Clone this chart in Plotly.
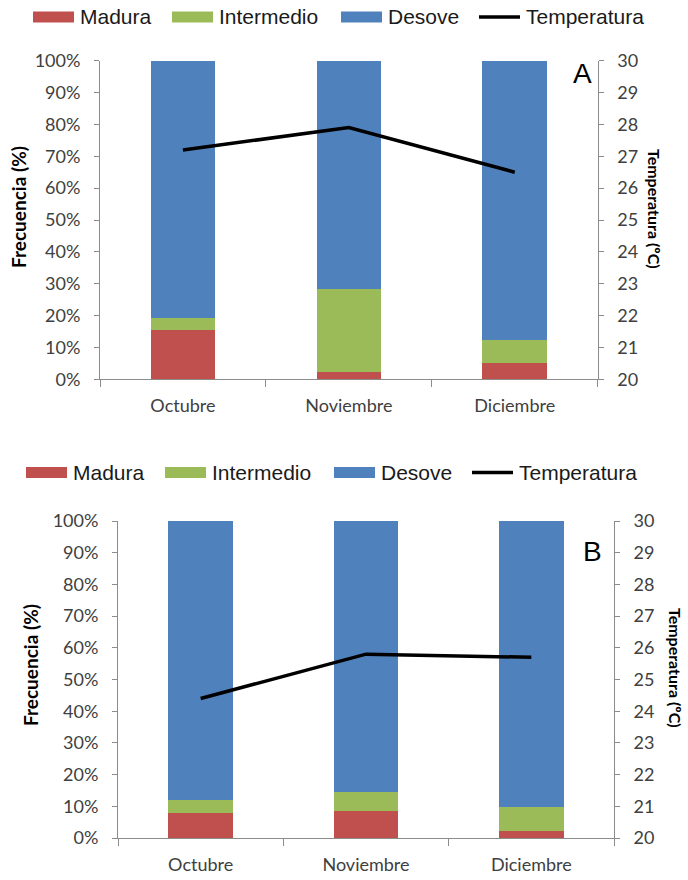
import plotly.graph_objects as go

W, H = 688, 880

months = ["Octubre", "Noviembre", "Diciembre"]

# Panel A
madura_a = [15.5, 2.3, 5.0]
intermedio_a = [3.6, 26.1, 7.2]
desove_a = [80.9, 71.6, 87.8]
temp_a = [27.2, 27.9, 26.5]

# Panel B
madura_b = [7.8, 8.5, 2.2]
intermedio_b = [4.2, 5.9, 7.7]
desove_b = [88.0, 85.6, 90.1]
temp_b = [24.4, 25.8, 25.7]

pct_ticks = [0, 10, 20, 30, 40, 50, 60, 70, 80, 90, 100]
pct_labels = ["0%", "10%", "20%", "30%", "40%", "50%", "60%", "70%", "80%", "90%", "100%"]
temp_ticks = [20, 21, 22, 23, 24, 25, 26, 27, 28, 29, 30]

C_RED = "#C0504D"
C_GREEN = "#9BBB59"
C_BLUE = "#4F81BD"
AX = "#8C8C8C"
TICKFONT = dict(family="Lato", size=18, color="#404040")
BAR_W = 0.39


def px(x):
    return x / W


def py(y):
    return 1 - y / H


fig = go.Figure()

for xa, ya, ya2, mad, inter, des, tmp in [
    ("x", "y", "y2", madura_a, intermedio_a, desove_a, temp_a),
    ("x2", "y3", "y4", madura_b, intermedio_b, desove_b, temp_b),
]:
    fig.add_trace(go.Bar(x=months, y=mad, name="Madura", marker_color=C_RED,
                         width=BAR_W, xaxis=xa, yaxis=ya, showlegend=False))
    fig.add_trace(go.Bar(x=months, y=inter, name="Intermedio", marker_color=C_GREEN,
                         width=BAR_W, xaxis=xa, yaxis=ya, showlegend=False))
    fig.add_trace(go.Bar(x=months, y=des, name="Desove", marker_color=C_BLUE,
                         width=BAR_W, xaxis=xa, yaxis=ya, showlegend=False))
    fig.add_trace(go.Scatter(x=months, y=tmp, name="Temperatura", mode="lines",
                             line=dict(color="black", width=3.5),
                             xaxis=xa, yaxis=ya2, showlegend=False))

xcommon = dict(type="category", range=[-0.5, 2.5], showline=True, linecolor=AX,
               linewidth=1, ticks="outside", tickson="boundaries", ticklen=7,
               tickcolor=AX, showgrid=False, tickfont=TICKFONT, ticklabelstandoff=10,
               zeroline=False, automargin=False)
ycommon = dict(range=[0, 100], tickmode="array", tickvals=pct_ticks, ticktext=pct_labels,
               showline=True, linecolor=AX, linewidth=1, ticks="outside", ticklen=5,
               tickcolor=AX, showgrid=False, zeroline=False, tickfont=TICKFONT,
               ticklabelstandoff=10, automargin=False)
tcommon = dict(range=[20, 30], tickmode="array", tickvals=temp_ticks, showline=True,
               linecolor=AX, linewidth=1, ticks="outside", ticklen=5, tickcolor=AX,
               showgrid=False, zeroline=False, tickfont=TICKFONT, side="right",
               ticklabelstandoff=10, automargin=False)

A_L, A_R, A_T, A_B = 100, 597.7, 60.7, 379.3
B_L, B_R, B_T, B_B = 118, 614, 521, 838

fig.update_layout(
    template="none",
    width=W, height=H, autosize=False,
    margin=dict(l=0, r=0, t=0, b=0, pad=0, autoexpand=False),
    paper_bgcolor="white", plot_bgcolor="white",
    barmode="stack", showlegend=False,
    xaxis=dict(domain=[px(A_L), px(A_R)], anchor="y", **xcommon),
    yaxis=dict(domain=[py(A_B), py(A_T)], anchor="x", **ycommon),
    yaxis2=dict(overlaying="y", anchor="x", **tcommon),
    xaxis2=dict(domain=[px(B_L), px(B_R)], anchor="y3", **xcommon),
    yaxis3=dict(domain=[py(B_B), py(B_T)], anchor="x2", **ycommon),
    yaxis4=dict(overlaying="y3", anchor="x2", **tcommon),
)

annotations = []
shapes = []

# Axis titles and panel letters
for (lx, ly, rx, ry, letter, ltx, lty) in [
    (18, 207, 655, 209, "A", 582, 73),
    (30, 665, 676, 668, "B", 592, 551),
]:
    annotations.append(dict(text="<b>Frecuencia (%)</b>", x=px(lx), y=py(ly),
                            xref="paper", yref="paper", showarrow=False,
                            textangle=-90, xanchor="center", yanchor="middle",
                            font=dict(family="Lato", size=19, color="black")))
    annotations.append(dict(text="<b>Temperatura (ºC)</b>", x=px(rx), y=py(ry),
                            xref="paper", yref="paper", showarrow=False,
                            textangle=90, xanchor="center", yanchor="middle",
                            font=dict(family="Lato", size=16, color="black")))
    annotations.append(dict(text=letter, x=px(ltx), y=py(lty),
                            xref="paper", yref="paper", showarrow=False,
                            xanchor="center", yanchor="middle",
                            font=dict(family="Liberation Sans", size=28, color="black")))

# Manual legends
leg_font = dict(family="Liberation Sans", size=21, color="#1a1a1a")
legend_items = [("Madura", C_RED, "box"), ("Intermedio", C_GREEN, "box"),
                ("Desove", C_BLUE, "box"), ("Temperatura", "black", "line")]
for x0, yc in [(33, 17), (26, 472.5)]:
    offsets = [0, 139, 308, 446]
    for (name, col, kind), off in zip(legend_items, offsets):
        sx = x0 + off
        if kind == "box":
            shapes.append(dict(type="rect", xref="paper", yref="paper",
                               x0=px(sx), x1=px(sx + 41), y0=py(yc + 5.5), y1=py(yc - 5.5),
                               fillcolor=col, line=dict(width=0)))
        else:
            shapes.append(dict(type="line", xref="paper", yref="paper",
                               x0=px(sx), x1=px(sx + 41), y0=py(yc), y1=py(yc),
                               line=dict(color=col, width=3.5)))
        annotations.append(dict(text=name, x=px(sx + 45), y=py(yc), xref="paper",
                                yref="paper", showarrow=False, xanchor="left",
                                yanchor="middle", font=leg_font))

fig.update_layout(annotations=annotations, shapes=shapes)

fig.write_html("out.html", config={"displayModeBar": False},
               post_script="document.body.style.margin='0';document.body.style.overflow='hidden';")
